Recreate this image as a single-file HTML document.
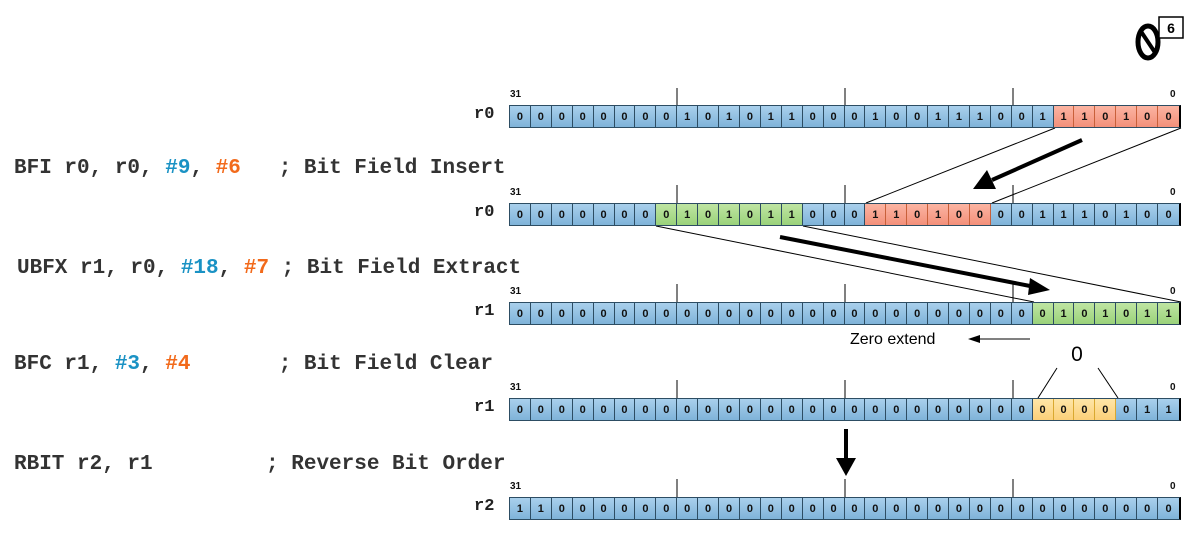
<!DOCTYPE html>
<html><head><meta charset="utf-8"><style>
body{margin:0;width:1194px;height:539px;background:#fff;position:relative;overflow:hidden;font-family:"Liberation Sans",sans-serif}
.reg{position:absolute;left:509px;height:23px;width:672px;display:flex;border:1px solid #2d4d63;border-right:2px solid #000;box-sizing:border-box}
.reg i{font-style:normal;width:21px;height:100%;box-sizing:border-box;border-right:1px solid #2d4d63;font:bold 11px "Liberation Sans",sans-serif;color:#111;display:flex;align-items:center;justify-content:center;background:linear-gradient(#a9d0ec,#7fb3d9)}
.reg i:last-child{border-right:none}
.reg i.r{background:linear-gradient(#fbb4a2,#f3907a);border-color:#c8603a}
.reg i.g{background:linear-gradient(#bfe5a2,#9ad27a)}
.reg i.y{background:linear-gradient(#fee6a8,#fccf78);border-color:#d9a830}
.code{position:absolute;left:14px;font:bold 21px "Liberation Mono",monospace;color:#333;white-space:pre;line-height:1}
.bl{color:#1a92c4}.or{color:#f26a1b}
.rl{position:absolute;left:474px;font:bold 17px "Liberation Mono",monospace;color:#222}
.n31{position:absolute;left:510px;font:bold 10px "Liberation Sans",sans-serif;color:#111}
.n0{position:absolute;left:1170px;font:bold 10px "Liberation Sans",sans-serif;color:#111}
</style></head><body>
<svg width="1194" height="539" style="position:absolute;left:0;top:0">
<g stroke="#000" stroke-width="1">
<line x1="677" y1="88" x2="677" y2="105"/><line x1="845" y1="88" x2="845" y2="105"/><line x1="1013" y1="88" x2="1013" y2="105"/>
<line x1="677" y1="185" x2="677" y2="203"/><line x1="845" y1="185" x2="845" y2="203"/><line x1="1013" y1="185" x2="1013" y2="203"/>
<line x1="677" y1="284" x2="677" y2="302"/><line x1="845" y1="284" x2="845" y2="302"/><line x1="1013" y1="284" x2="1013" y2="302"/>
<line x1="677" y1="380" x2="677" y2="398"/><line x1="845" y1="380" x2="845" y2="398"/><line x1="1013" y1="380" x2="1013" y2="398"/>
<line x1="677" y1="479" x2="677" y2="497"/><line x1="845" y1="479" x2="845" y2="497"/><line x1="1013" y1="479" x2="1013" y2="497"/>
<line x1="1055" y1="128" x2="866" y2="203"/><line x1="1181" y1="128" x2="992" y2="203"/>
<line x1="656" y1="226" x2="1034" y2="302"/><line x1="803" y1="226" x2="1181" y2="302"/>
<line x1="1057" y1="368" x2="1038" y2="398"/><line x1="1098" y1="368" x2="1118" y2="398"/>
<line x1="1030" y1="339" x2="978" y2="339"/>
</g>
<polygon points="968,339 980,335 980,343" fill="#000"/>
<line x1="1082" y1="140" x2="992" y2="180" stroke="#000" stroke-width="4"/>
<polygon points="973,189 987,170 996,189" fill="#000"/>
<line x1="780" y1="237" x2="1030" y2="286" stroke="#000" stroke-width="4"/>
<polygon points="1050,290 1030,278 1028,295" fill="#000"/>
<line x1="846" y1="429" x2="846" y2="462" stroke="#000" stroke-width="4"/>
<polygon points="836,458 856,458 846,476" fill="#000"/>
<ellipse cx="1148" cy="42" rx="10" ry="16" fill="none" stroke="#000" stroke-width="5"/>
<line x1="1140" y1="30" x2="1156" y2="54" stroke="#000" stroke-width="4"/>
<rect x="1159" y="17" width="24" height="21" fill="#fff" stroke="#000" stroke-width="1.5"/>
<text x="1171" y="33" font-family="Liberation Sans" font-weight="bold" font-size="14" text-anchor="middle">6</text>
<text x="850" y="344" font-family="Liberation Sans" font-size="16">Zero extend</text>
<text x="1077" y="361" font-family="Liberation Sans" font-size="21" text-anchor="middle">0</text>
</svg>

<div class="code" style="top:158px">BFI r0, r0, <span class="bl">#9</span>, <span class="or">#6</span>   ; Bit Field Insert</div>
<div class="code" style="top:258px;left:17px">UBFX r1, r0, <span class="bl">#18</span>, <span class="or">#7</span> ; Bit Field Extract</div>
<div class="code" style="top:354px">BFC r1, <span class="bl">#3</span>, <span class="or">#4</span>       ; Bit Field Clear</div>
<div class="code" style="top:454px">RBIT r2, r1         ; Reverse Bit Order</div>

<div class="n31" style="top:89px">31</div><div class="n0" style="top:89px">0</div>
<div class="n31" style="top:187px">31</div><div class="n0" style="top:187px">0</div>
<div class="n31" style="top:286px">31</div><div class="n0" style="top:286px">0</div>
<div class="n31" style="top:382px">31</div><div class="n0" style="top:382px">0</div>
<div class="n31" style="top:481px">31</div><div class="n0" style="top:481px">0</div>

<div class="rl" style="top:105px">r0</div>
<div class="rl" style="top:203px">r0</div>
<div class="rl" style="top:302px">r1</div>
<div class="rl" style="top:398px">r1</div>
<div class="rl" style="top:497px">r2</div>

<div class="reg" style="top:105px"><i>0</i><i>0</i><i>0</i><i>0</i><i>0</i><i>0</i><i>0</i><i>0</i><i>1</i><i>0</i><i>1</i><i>0</i><i>1</i><i>1</i><i>0</i><i>0</i><i>0</i><i>1</i><i>0</i><i>0</i><i>1</i><i>1</i><i>1</i><i>0</i><i>0</i><i>1</i><i class="r">1</i><i class="r">1</i><i class="r">0</i><i class="r">1</i><i class="r">0</i><i class="r">0</i></div>
<div class="reg" style="top:203px"><i>0</i><i>0</i><i>0</i><i>0</i><i>0</i><i>0</i><i>0</i><i class="g">0</i><i class="g">1</i><i class="g">0</i><i class="g">1</i><i class="g">0</i><i class="g">1</i><i class="g">1</i><i>0</i><i>0</i><i>0</i><i class="r">1</i><i class="r">1</i><i class="r">0</i><i class="r">1</i><i class="r">0</i><i class="r">0</i><i>0</i><i>0</i><i>1</i><i>1</i><i>1</i><i>0</i><i>1</i><i>0</i><i>0</i></div>
<div class="reg" style="top:302px"><i>0</i><i>0</i><i>0</i><i>0</i><i>0</i><i>0</i><i>0</i><i>0</i><i>0</i><i>0</i><i>0</i><i>0</i><i>0</i><i>0</i><i>0</i><i>0</i><i>0</i><i>0</i><i>0</i><i>0</i><i>0</i><i>0</i><i>0</i><i>0</i><i>0</i><i class="g">0</i><i class="g">1</i><i class="g">0</i><i class="g">1</i><i class="g">0</i><i class="g">1</i><i class="g">1</i></div>
<div class="reg" style="top:398px"><i>0</i><i>0</i><i>0</i><i>0</i><i>0</i><i>0</i><i>0</i><i>0</i><i>0</i><i>0</i><i>0</i><i>0</i><i>0</i><i>0</i><i>0</i><i>0</i><i>0</i><i>0</i><i>0</i><i>0</i><i>0</i><i>0</i><i>0</i><i>0</i><i>0</i><i class="y">0</i><i class="y">0</i><i class="y">0</i><i class="y">0</i><i>0</i><i>1</i><i>1</i></div>
<div class="reg" style="top:497px"><i>1</i><i>1</i><i>0</i><i>0</i><i>0</i><i>0</i><i>0</i><i>0</i><i>0</i><i>0</i><i>0</i><i>0</i><i>0</i><i>0</i><i>0</i><i>0</i><i>0</i><i>0</i><i>0</i><i>0</i><i>0</i><i>0</i><i>0</i><i>0</i><i>0</i><i>0</i><i>0</i><i>0</i><i>0</i><i>0</i><i>0</i><i>0</i></div>
</body></html>
